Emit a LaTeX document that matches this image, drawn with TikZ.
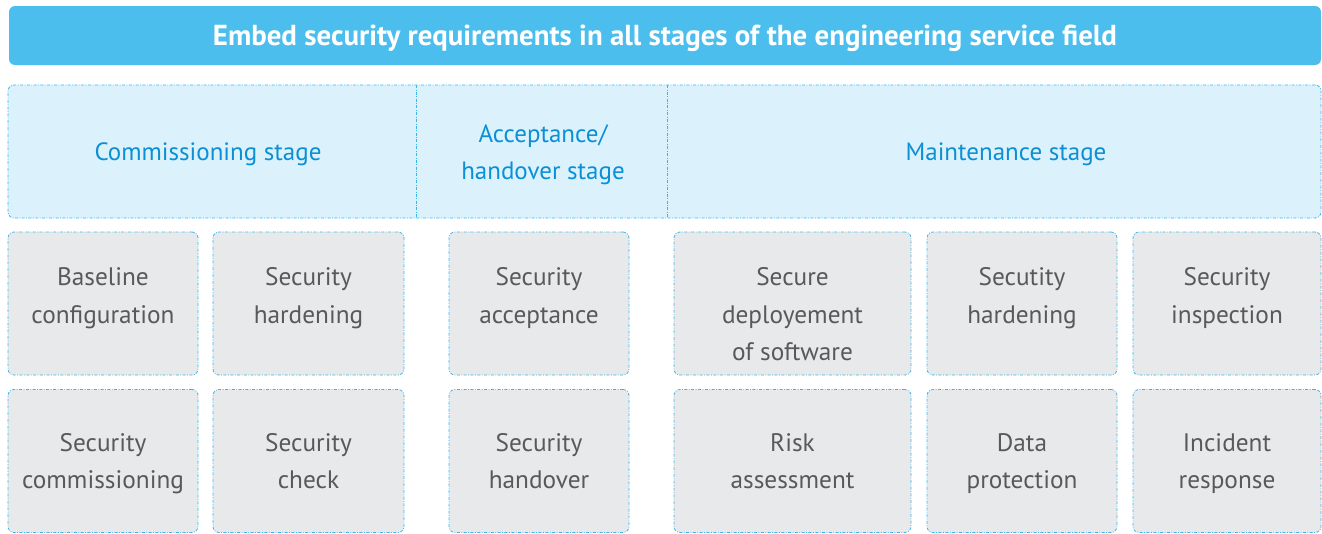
\documentclass[tikz,border=0pt]{standalone}
\usepackage{fontspec}
\setmainfont{PT Sans}
\usepackage{xcolor}
\definecolor{secblue}{HTML}{4BBEEE}
\definecolor{seclightblue}{HTML}{DBF1FC}
\definecolor{secline}{HTML}{3DB5EB}
\definecolor{sectext}{HTML}{0B8FD5}
\definecolor{secgray}{HTML}{E8E9EB}
\definecolor{secdark}{HTML}{58595B}
\usepackage{tikz}
\usetikzlibrary{positioning}

\begin{document}
\begin{tikzpicture}[x=1pt, y=-1pt,
    dashdot/.style={draw=secline, line width=0.8pt,
                    dash pattern=on 3pt off 1.5pt on 0.8pt off 1.5pt},
    title/.style={rectangle, rounded corners=6pt, fill=secblue,
                  minimum width=1312pt, minimum height=59pt, text=white,
                  text height=22pt, text depth=3pt,
                  font=\fontsize{28.9}{30}\selectfont\bfseries},
    stage/.style={font=\fontsize{25}{37}\selectfont, text=sectext,
                  align=center, inner sep=0pt},
    item/.style={rectangle, rounded corners=6pt, fill=secgray, dashdot,
                 minimum height=143pt, inner sep=0pt},
    itemtext/.style={font=\fontsize{25.3}{37.5}\selectfont, text=secdark,
                     align=center, inner sep=0pt, node distance=36pt}
  ]
    \useasboundingbox (0,0) rectangle (1322,533);

    % Title bar
    \node[title] (head) at (665, 35.5)
      {Embed security requirements in all stages of the engineering service field};

    % Stage header band
    \node[rectangle, rounded corners=6pt, fill=seclightblue, dashdot,
          minimum width=1313pt, minimum height=133pt] (band) at (664.5, 151.5) {};
    \coordinate (d1t) at (416, 85);
    \coordinate (d1b) at (416, 218);
    \coordinate (d2t) at (667, 85);
    \coordinate (d2b) at (667, 218);
    \draw[dashdot] (d1t) -- (d1b);
    \draw[dashdot] (d2t) -- (d2b);
    \node[stage] (comm) at (208, 154) {Commissioning stage};
    \node[stage] (acc)  at (543, 154.5) {Acceptance/\\handover stage};
    \node[stage] (main) at (1006, 154) {Maintenance stage};

    % Commissioning boxes
    \node[item, minimum width=190pt] (c1a) at (103, 303.5) {};
    \node[item, minimum width=191pt] (c2a) at (308.5, 303.5) {};
    \node[item, minimum width=190pt] (c1b) at (103, 461) {};
    \node[item, minimum width=191pt] (c2b) at (308.5, 461) {};
    % Acceptance boxes
    \node[item, minimum width=180pt] (c3a) at (539, 303.5) {};
    \node[item, minimum width=180pt] (c3b) at (539, 461) {};
    % Maintenance boxes
    \node[item, minimum width=237pt] (c4a) at (792.5, 303.5) {};
    \node[item, minimum width=190pt] (c5a) at (1022, 303.5) {};
    \node[item, minimum width=188pt] (c6a) at (1227, 303.5) {};
    \node[item, minimum width=237pt] (c4b) at (792.5, 461) {};
    \node[item, minimum width=190pt] (c5b) at (1022, 461) {};
    \node[item, minimum width=188pt] (c6b) at (1227, 461) {};

    % Box texts, top row
    \node[itemtext, below=of c1a.north] (t1a) {Baseline\\configuration};
    \node[itemtext, below=of c2a.north] (t2a) {Security\\hardening};
    \node[itemtext, below=of c3a.north] (t3a) {Security\\acceptance};
    \node[itemtext, below=of c4a.north] (t4a) {Secure\\deployement\\of software};
    \node[itemtext, below=of c5a.north] (t5a) {Secutity\\hardening};
    \node[itemtext, below=of c6a.north] (t6a) {Security\\inspection};
    % Box texts, bottom row
    \node[itemtext, below=44pt of c1b.north] (t1b) {Security\\commissioning};
    \node[itemtext, below=44pt of c2b.north] (t2b) {Security\\check};
    \node[itemtext, below=44pt of c3b.north] (t3b) {Security\\handover};
    \node[itemtext, below=44pt of c4b.north] (t4b) {Risk\\assessment};
    \node[itemtext, below=44pt of c5b.north] (t5b) {Data\\protection};
    \node[itemtext, below=44pt of c6b.north] (t6b) {Incident\\response};
\end{tikzpicture}
\end{document}
